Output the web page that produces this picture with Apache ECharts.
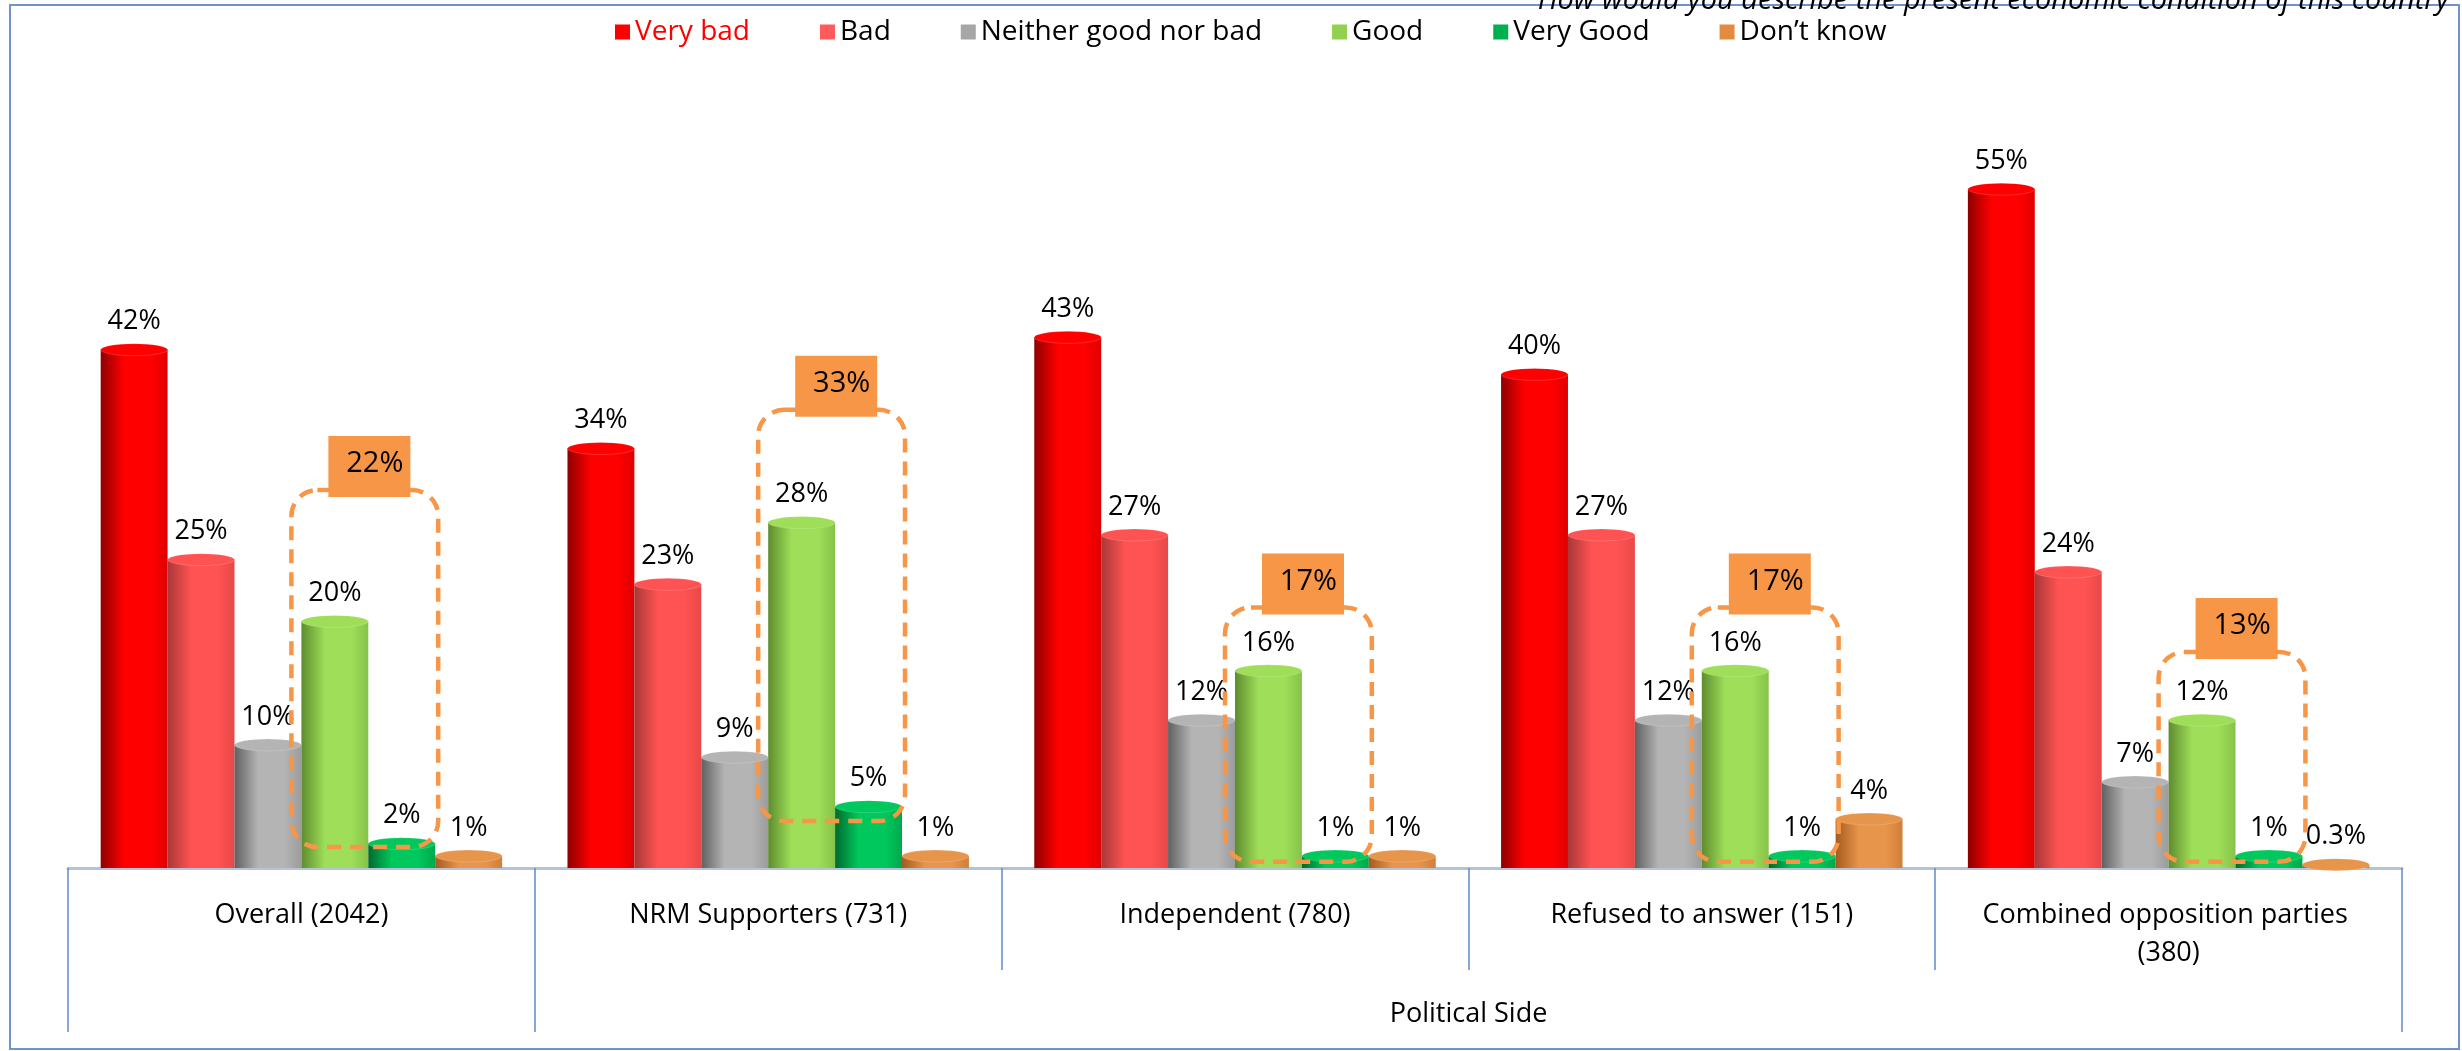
<!DOCTYPE html>
<html>
<head>
<meta charset="utf-8">
<title>Economic condition by political side</title>
<script src="https://cdn.jsdelivr.net/npm/echarts@6/dist/echarts.min.js"></script>
<style>
  html, body { margin: 0; padding: 0; background: #fff; }
  #chart { width: 2462px; height: 1051px; }
</style>
</head>
<body>
<div id="chart"></div>
<script>
// data
const categories = [
  "Overall (2042)",
  "NRM Supporters (731)",
  "Independent (780)",
  "Refused to answer (151)",
  "Combined opposition parties (380)",
];
const seriesNames = ["Very bad", "Bad", "Neither good nor bad", "Good", "Very Good", "Don\u2019t know"];
const veryBad = [42, 34, 43, 40, 55];
const bad = [25, 23, 27, 27, 24];
const neither = [10, 9, 12, 12, 7];
const good = [20, 28, 16, 16, 12];
const veryGood = [2, 5, 1, 1, 1];
const dontKnow = [1, 1, 1, 4, 0.3];
// good + very good, shown in the orange callouts
const goodTotal = [22, 33, 17, 17, 13];
const groupName = "Political Side";
const titleText = "How would you describe the present economic condition of this country";

const chart = echarts.init(document.getElementById("chart"));

const FONT = "Open Sans";
// [dark edge, main, right side] for the cylinder look
const shades = [
  ["#8E0000", "#FF0000", "#E00000"],
  ["#A83838", "#FF5252", "#E84848"],
  ["#606060", "#B4B4B4", "#9C9C9C"],
  ["#5E8C2E", "#9EDE58", "#86C24A"],
  ["#006A2E", "#00C85C", "#00A84C"],
  ["#A55A1E", "#E8954C", "#D07E38"],
];
const legendColors = ["#FF0000", "#FF5B5B", "#A6A6A6", "#92D050", "#00B050", "#E38B3E"];
const values = [veryBad, bad, neither, good, veryGood, dontKnow];

// callout box extent in value units (bottom, top), per group
const boxSpan = [[1.7, 30.6], [3.8, 37.1], [0.5, 21.1], [0.5, 21.1], [0.5, 17.5]];

function cylinder(s) {
  return new echarts.graphic.LinearGradient(0, 0, 1, 0, [
    { offset: 0, color: s[0] },
    { offset: 0.35, color: s[1] },
    { offset: 0.75, color: s[1] },
    { offset: 1, color: s[2] },
  ]);
}

const barSeries = values.map(function (v, i) {
  return {
    name: seriesNames[i],
    type: "bar",
    data: v,
    barGap: "0%",
    barCategoryGap: "14%",
    itemStyle: { color: cylinder(shades[i]) },
    label: {
      show: true,
      position: "top",
      distance: 14,
      formatter: "{c}%",
      color: "#000",
      fontFamily: FONT,
      fontSize: 27,
    },
    z: 2,
  };
});

// elliptical tops of the cylinders
const capSeries = values.map(function (v, i) {
  return {
    name: seriesNames[i],
    type: "pictorialBar",
    data: v,
    barGap: "0%",
    barCategoryGap: "14%",
    symbol: "circle",
    symbolSize: ["100%", 12],
    symbolPosition: "end",
    symbolOffset: [0, "-50%"],
    itemStyle: {
      color: shades[i][1],
      borderColor: "rgba(255,255,255,0.85)",
      borderWidth: 2,
    },
    silent: true,
    z: 3,
  };
});

// dashed rounded box round Good + Very Good with the total on top
const calloutSeries = {
  type: "custom",
  data: goodTotal.map(function (t, i) { return [i, t]; }),
  clip: false,
  silent: true,
  z: 6,
  renderItem: function (params, api) {
    const idx = api.value(0);
    const total = api.value(1);
    const band = api.size([1, 0])[0];
    const barW = (band * 0.86) / 6;
    const cx = api.coord([idx, 0])[0];
    const left = cx - 10;
    const right = cx + 2 * barW + 3;
    const top = api.coord([idx, boxSpan[idx][1]])[1];
    const bottom = api.coord([idx, boxSpan[idx][0]])[1];
    const tagX = left + 37;
    return {
      type: "group",
      children: [
        {
          type: "rect",
          shape: { x: left, y: top, width: right - left, height: bottom - top, r: 26 },
          style: { fill: "none", stroke: "#F79646", lineWidth: 4.5, lineDash: [14, 9] },
        },
        {
          type: "rect",
          shape: { x: tagX, y: top - 54, width: 82, height: 61 },
          style: { fill: "#F79646" },
        },
        {
          type: "text",
          style: {
            text: total + "%",
            x: tagX + 75,
            y: top - 26,
            align: "right",
            verticalAlign: "middle",
            font: "29px '" + FONT + "'",
            fill: "#000",
          },
        },
      ],
    };
  },
};

chart.setOption({
  backgroundColor: "#fff",
  textStyle: { fontFamily: FONT },
  title: {
    text: titleText,
    right: 8,
    top: -19,
    textStyle: { fontFamily: FONT, fontStyle: "italic", fontWeight: "normal", fontSize: 29, color: "#000" },
  },
  legend: {
    top: 13,
    left: 610,
    icon: "rect",
    itemWidth: 15,
    itemHeight: 15,
    itemGap: 70,
    textStyle: { fontFamily: FONT, fontSize: 28, color: "#000" },
    data: seriesNames.map(function (n, i) {
      return {
        name: n,
        itemStyle: { color: legendColors[i] },
        textStyle: i === 0 ? { color: "#FF0000" } : undefined,
      };
    }),
  },
  graphic: [
    {
      type: "rect",
      shape: { x: 10, y: 5, width: 2449, height: 1044 },
      style: { fill: "none", stroke: "#6F94CC", lineWidth: 2 },
      silent: true,
    },
  ],
  grid: { left: 68, right: 60, top: 127, bottom: 183 },
  xAxis: [
    {
      type: "category",
      data: categories,
      axisLine: { show: true, lineStyle: { color: "#B5C3D8", width: 3 } },
      axisTick: { show: true, interval: 0, length: 102, lineStyle: { color: "#5F8BCB", width: 1.5 } },
      axisLabel: {
        interval: 0,
        margin: 28,
        color: "#000",
        fontFamily: FONT,
        fontSize: 27,
        lineHeight: 38,
        width: 430,
        overflow: "break",
      },
    },
    {
      type: "category",
      data: categories,
      position: "bottom",
      offset: 102,
      axisLine: { show: false },
      // only the outer group edges run down to the bottom row
      axisTick: {
        show: true,
        interval: function (idx) { return idx <= 1; },
        length: 62,
        lineStyle: { color: "#5F8BCB", width: 1.5 },
      },
      axisLabel: { show: false },
      name: groupName,
      nameLocation: "middle",
      nameGap: 31,
      nameTextStyle: {
        fontFamily: FONT,
        fontSize: 27,
        color: "#000",
        padding: [0, 0, 0, 467],
      },
    },
  ],
  yAxis: {
    type: "value",
    min: 0,
    max: 60,
    show: false,
  },
  series: barSeries.concat(capSeries, [calloutSeries]),
});

window.addEventListener("resize", function () {
  chart.resize();
});
</script>
</body>
</html>
